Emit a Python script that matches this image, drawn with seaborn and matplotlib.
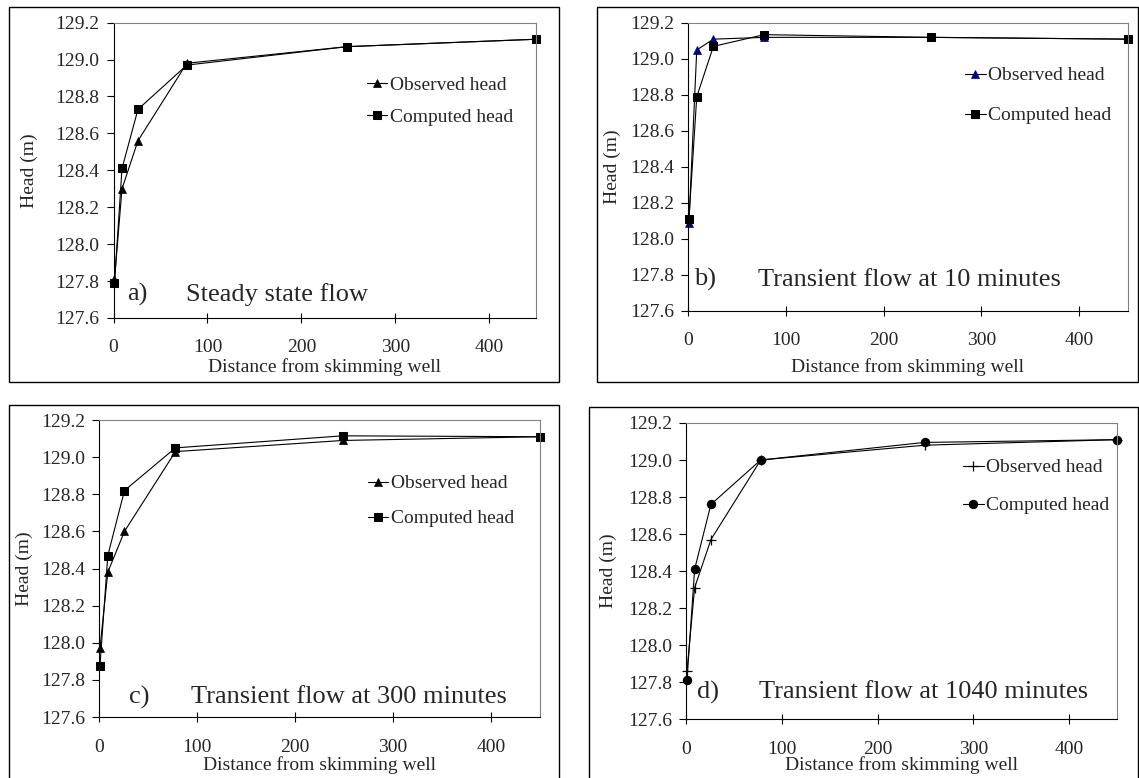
import numpy as np
import pandas as pd
import matplotlib
matplotlib.use("Agg")
import matplotlib.pyplot as plt
from matplotlib.patches import Rectangle
import seaborn as sns

# distance from skimming well (same for every panel)
distance = [1, 9, 26, 78, 249, 450]

# a) steady state
obs_a = [127.81, 128.30, 128.56, 128.98, 129.07, 129.11]
com_a = [127.79, 128.41, 128.73, 128.97, 129.07, 129.11]
# b) transient, 10 minutes
obs_b = [128.09, 129.05, 129.11, 129.12, 129.12, 129.11]
com_b = [128.11, 128.79, 129.07, 129.135, 129.12, 129.11]
# c) transient, 300 minutes
obs_c = [127.97, 128.38, 128.60, 129.03, 129.09, 129.11]
com_c = [127.875, 128.47, 128.82, 129.05, 129.115, 129.11]
# d) transient, 1040 minutes
obs_d = [127.86, 128.31, 128.57, 129.00, 129.08, 129.11]
com_d = [127.81, 128.41, 128.76, 129.00, 129.095, 129.11]

letters = ["a)", "b)", "c)", "d)"]
titles = ["Steady state flow", "Transient flow at 10 minutes",
          "Transient flow at 300 minutes", "Transient flow at 1040 minutes"]
yticks = [127.6, 127.8, 128.0, 128.2, 128.4, 128.6, 128.8, 129.0, 129.2]
xticks = [0, 100, 200, 300, 400]

sns.set_style("white")
plt.rcParams["font.family"] = ["Liberation Serif", "DejaVu Serif"]

fig = plt.figure(figsize=(11.39, 7.78), dpi=100)

# axes rectangles, panel frames and label/legend placement per panel
panels = [
    dict(ax=[0.0997, 0.5913, 0.3709, 0.3796], box=[0.0079, 0.509, 0.4829, 0.482],
         obs=obs_a, com=com_a, omk="^", cmk="s", ocol="black",
         leg=(0.60, 0.735), lsp=0.75, txt=(0.032, 0.172, 0.078), yl=-0.179, xl=-0.135),
    dict(ax=[0.6040, 0.6003, 0.3863, 0.3702], box=[0.5241, 0.509, 0.4750, 0.482],
         obs=obs_b, com=com_b, omk="^", cmk="s", ocol="#000080",
         leg=(0.63, 0.748), lsp=1.15, txt=(0.014, 0.159, 0.108), yl=-0.152, xl=-0.163),
    dict(ax=[0.0869, 0.0784, 0.3872, 0.3817], box=[0.0079, -0.02, 0.4829, 0.4994],
         obs=obs_c, com=com_c, omk="^", cmk="s", ocol="black",
         leg=(0.61, 0.727), lsp=0.9, txt=(0.068, 0.209, 0.067), yl=-0.150, xl=-0.131),
    dict(ax=[0.6023, 0.0758, 0.3784, 0.3805], box=[0.5171, -0.02, 0.4820, 0.4969],
         obs=obs_d, com=com_d, omk="+", cmk="o", ocol="black",
         leg=(0.643, 0.785), lsp=1.05, txt=(0.026, 0.169, 0.091), yl=-0.160, xl=-0.125),
]

for i, p in enumerate(panels):
    fig.add_artist(Rectangle((p["box"][0], p["box"][1]), p["box"][2], p["box"][3],
                             transform=fig.transFigure, fill=False,
                             edgecolor="black", linewidth=1.0))
    ax = fig.add_axes(p["ax"])
    df = pd.DataFrame({"dist": distance, "obs": p["obs"], "com": p["com"]})

    omsize = 7 if p["omk"] == "+" else 5.5
    sns.lineplot(data=df, x="dist", y="obs", ax=ax, color="black", linewidth=0.8,
                 marker=p["omk"], markersize=omsize, markerfacecolor=p["ocol"],
                 markeredgecolor=p["ocol"], markeredgewidth=0.9 if p["omk"] == "+" else 0.5,
                 label="Observed head", errorbar=None, sort=False, clip_on=False)
    sns.lineplot(data=df, x="dist", y="com", ax=ax, color="black", linewidth=0.8,
                 marker=p["cmk"], markersize=6, markerfacecolor="black",
                 markeredgecolor="black", label="Computed head", errorbar=None,
                 sort=False, clip_on=False)

    ax.set_xlim(0, 450)
    ax.set_ylim(127.6, 129.2)
    ax.set_xticks(xticks)
    ax.set_yticks(yticks)
    ax.set_yticklabels([f"{v:.1f}" for v in yticks])
    ax.tick_params(axis="y", direction="out", length=5, width=0.8, pad=5,
                   labelsize=14, left=True, color="black")
    ax.tick_params(axis="x", direction="inout", length=7, width=0.8, pad=12,
                   labelsize=14, bottom=True, color="black")

    for side in ["top", "right"]:
        ax.spines[side].set_color("#808080")
        ax.spines[side].set_linewidth(0.8)
    for side in ["left", "bottom"]:
        ax.spines[side].set_color("black")
        ax.spines[side].set_linewidth(0.8)

    ax.set_xlabel("Distance from skimming well", fontsize=14)
    ax.set_ylabel("Head (m)", fontsize=14)
    ax.xaxis.set_label_coords(0.5, p["xl"])
    ax.yaxis.set_label_coords(p["yl"], 0.5)

    ax.legend(loc="center left", bbox_to_anchor=p["leg"], frameon=False,
              fontsize=14, handlelength=1.05, handletextpad=0.15,
              labelspacing=p["lsp"], borderpad=0, borderaxespad=0)

    tx1, tx2, ty = p["txt"]
    ax.text(tx1, ty, letters[i], transform=ax.transAxes, fontsize=19, va="center")
    ax.text(tx2, ty, titles[i], transform=ax.transAxes, fontsize=19, va="center")

fig.savefig("out.png", dpi=100, facecolor="white")
